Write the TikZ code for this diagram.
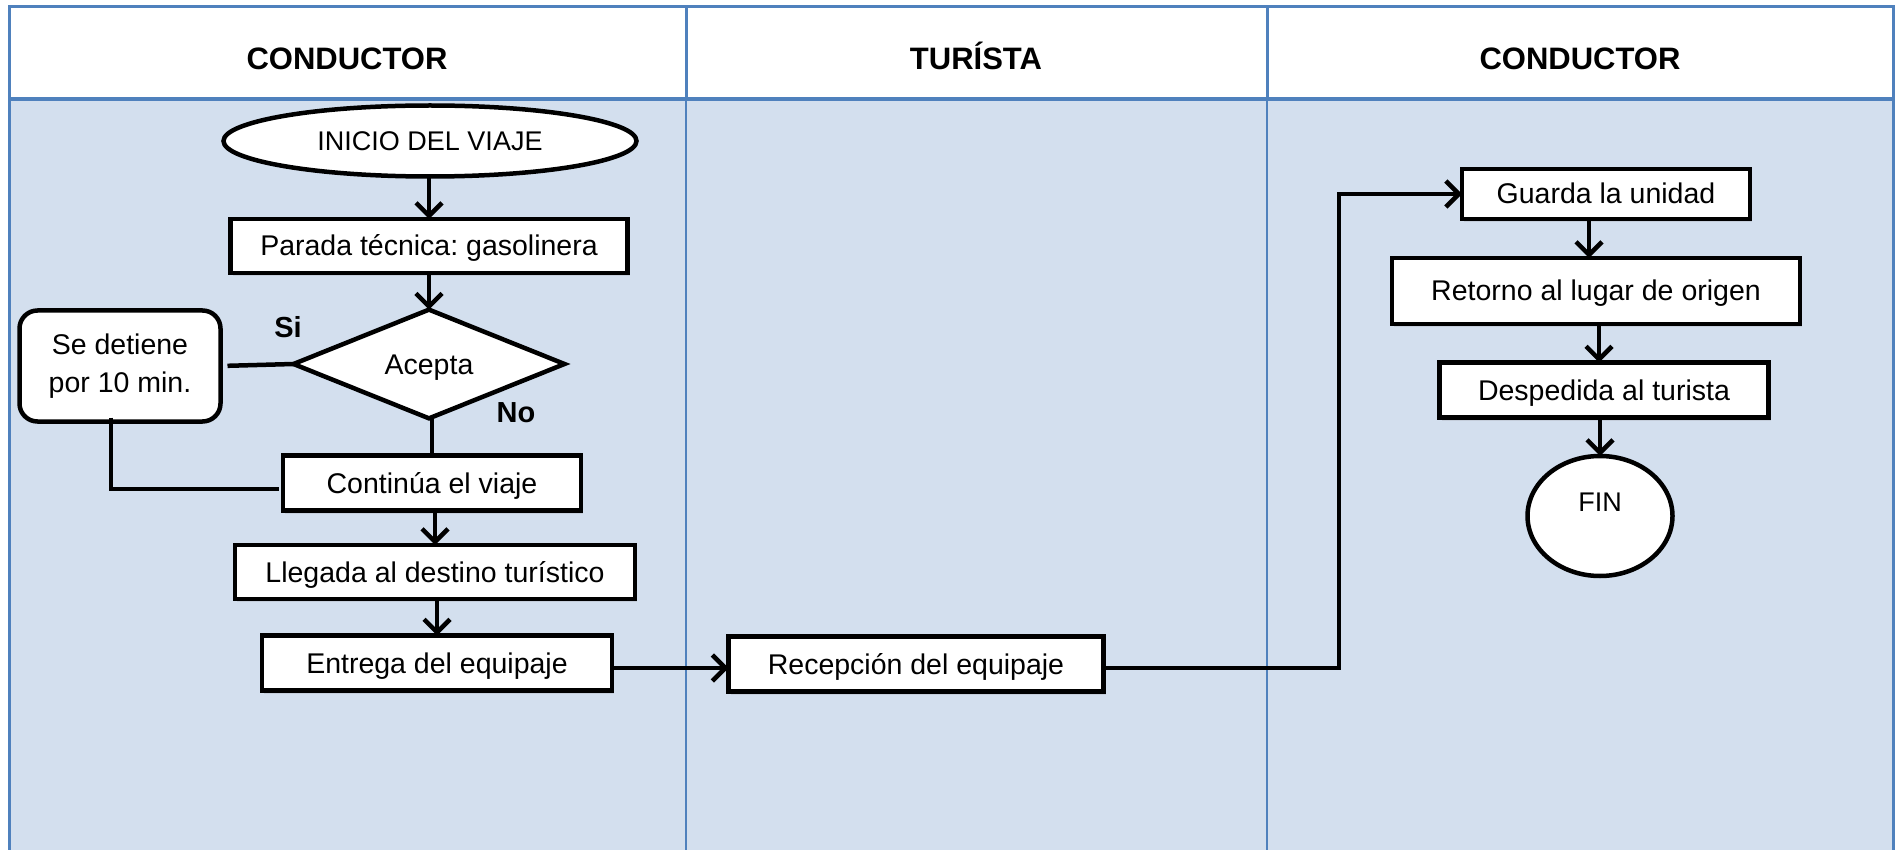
\documentclass[tikz,border=0pt]{standalone}
\usepackage{fontspec}
\setmainfont{Liberation Sans}
\usetikzlibrary{arrows.meta,shapes.geometric,calc,shadows}
\definecolor{laneblue}{RGB}{79,129,189}
\definecolor{lanefill}{RGB}{211,223,238}
\frenchspacing
\begin{document}
\begin{tikzpicture}[x=1pt,y=-1pt,
  every node/.style={inner sep=0pt,outer sep=0pt},
  boxtext/.style={font=\fontsize{28.5}{34}\selectfont},
  procbox/.style={boxtext,draw=black,line width=4.5pt,fill=white,rectangle,
     text height=20pt,text depth=0pt,
     drop shadow={shadow xshift=2pt,shadow yshift=-3pt,opacity=0.18}},
  termshape/.style={boxtext,draw=black,line width=4.5pt,fill=white,ellipse},
  conn/.style={line width=4.5pt,draw=black},
  arr/.style={conn,-{Straight Barb[length=13pt,width=26pt]}},
  headtext/.style={font=\fontsize{31}{36}\selectfont\bfseries,anchor=base},
  lbl/.style={font=\fontsize{29}{34}\selectfont\bfseries}
]
\useasboundingbox (0,0) rectangle (1896,850);
% lanes background
\fill[white] (9,7) rectangle (1893,99);
\fill[lanefill] (9,99) rectangle (1893,850);
\draw[laneblue,line width=3pt] (9,850) -- (9,7) -- (1893,7) -- (1893,850);
\draw[laneblue,line width=3pt] (686,7) -- (686,99);
\draw[laneblue,line width=3pt] (1267,7) -- (1267,99);
\draw[laneblue,line width=2.5pt] (686,99) -- (686,850);
\draw[laneblue,line width=2.5pt] (1267,99) -- (1267,850);
\draw[laneblue,line width=4.5pt] (9,99) -- (1893,99);
% headers
\node[headtext] (h1) at (347,70) {CONDUCTOR};
\node[headtext] (h2) at (976,70) {TURÍSTA};
\node[headtext] (h3) at (1580,70) {CONDUCTOR};
% nodes
\node[termshape,minimum width=413pt,minimum height=71pt,font=\fontsize{27}{32}\selectfont] (start) at (430,141) {INICIO DEL VIAJE};
\node[procbox,minimum width=397pt,minimum height=54pt] (parada) at (429,246) {Parada técnica: gasolinera};
\node[boxtext,draw=black,line width=4.5pt,fill=white,diamond,minimum width=271pt,minimum height=105pt,text height=20pt,text depth=0pt] (acepta) at (429,364) {Acepta};
\node[boxtext,draw=black,line width=4.5pt,fill=white,rectangle,rounded corners=18pt,minimum width=201pt,minimum height=111pt,align=center,font=\fontsize{28.5}{38}\selectfont] (rbox) at (120,366) {Se detiene\\por 10 min.};
\node[procbox,minimum width=298pt,minimum height=55pt] (cont) at (432,483) {Continúa el viaje};
\node[procbox,minimum width=400pt,minimum height=54pt] (lleg) at (435,572) {Llegada al destino turístico};
\node[procbox,minimum width=350pt,minimum height=55pt] (entr) at (437,663) {Entrega del equipaje};
\node[procbox,minimum width=375pt,minimum height=55pt] (recep) at (916,664) {Recepción del equipaje};
\node[procbox,minimum width=288pt,minimum height=50pt] (guarda) at (1606,194) {Guarda la unidad};
\node[procbox,minimum width=408pt,minimum height=66pt] (retorno) at (1596,291) {Retorno al lugar de origen};
\node[procbox,minimum width=329pt,minimum height=55pt] (desp) at (1604,390) {Despedida al turista};
\node[draw=black,line width=4.5pt,fill=white,ellipse,minimum width=145pt,minimum height=120pt] (fin) at (1600,516) {};
\node[font=\fontsize{27}{32}\selectfont] (fintext) at (1600,502) {FIN};
% labels
\node[lbl] (si) at (288,327) {Si};
\node[lbl] (no) at (516,413) {No};
% connectors
\draw[arr] (parada.north |- start.south) -- (parada.north);
\draw[arr] (parada.south) -- (acepta.north);
\draw[conn,shorten >=7pt] (acepta.west) -- (rbox.east);
\draw[conn] ([xshift=3pt]acepta.south) -- ([xshift=3pt]acepta.south |- cont.north);
\coordinate (rb) at ($(rbox.south)+(-9,-4)$);
\coordinate (cw) at ($(cont.west)+(-4,6)$);
\draw[conn] (rb) |- (cw);
\draw[arr] (lleg.north |- cont.south) -- (lleg.north);
\draw[arr] (entr.north |- lleg.south) -- (entr.north);
\coordinate (e1) at ($(entr.east)+(0,5)$);
\draw[arr] (e1) -- (e1 -| recep.west);
\coordinate (r1) at ($(recep.east)+(0,4)$);
\coordinate (bend) at (1339,194);
\draw[arr] (r1) -| (bend) -- (guarda.west);
\coordinate (g1) at ($(guarda.south)+(-17,0)$);
\draw[arr] (g1) -- (g1 |- retorno.north);
\coordinate (t1) at ($(retorno.south)+(3,0)$);
\draw[arr] (t1) -- (t1 |- desp.north);
\draw[arr] (fin.north |- desp.south) -- (fin.north);
\end{tikzpicture}
\end{document}
